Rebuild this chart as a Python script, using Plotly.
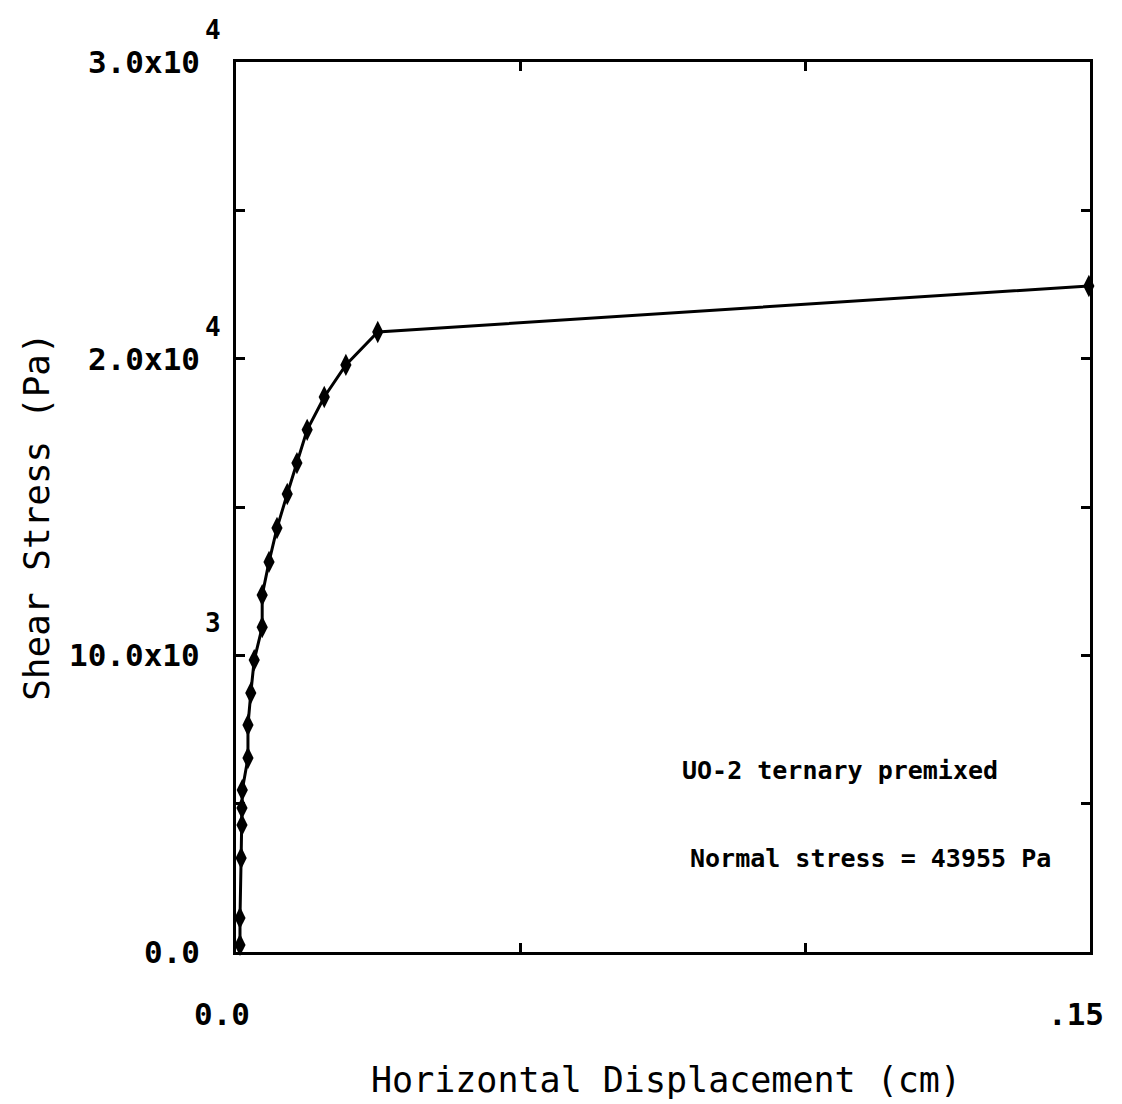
import plotly.graph_objects as go

# Data
displacement_cm = [0.0007, 0.0007, 0.0009, 0.00105, 0.00105, 0.0011, 0.0021, 0.0021, 0.0026,
                   0.0032, 0.0046, 0.0046, 0.0058, 0.0072, 0.0090, 0.0107, 0.0125, 0.0155,
                   0.0193, 0.0249, 0.1498]
shear_stress_pa = [240, 1150, 3170, 4280, 4850, 5460, 6540, 7650, 8730,
                   9840, 10950, 12030, 13150, 14290, 15440, 16480, 17600, 18710,
                   19790, 20900, 22450]

y_tickvals = [0, 5000, 10000, 15000, 20000, 25000, 30000]
y_label_vals = [0, 10000, 20000, 30000]
y_label_mant = ["0.0", "10.0x10", "2.0x10", "3.0x10"]
y_label_exp = ["", "3", "4", "4"]
x_tickvals = [0, 0.05, 0.10, 0.15]
x_label_vals = [0, 0.15]
x_label_text = ["0.0", ".15"]

note_lines = ["UO-2 ternary premixed", "Normal stress = 43955 Pa"]

FONT = "DejaVu Sans Mono"

fig = go.Figure()
fig.add_trace(go.Scatter(
    x=displacement_cm, y=shear_stress_pa, mode="lines+markers",
    line=dict(color="black", width=3),
    marker=dict(symbol="diamond-tall", size=16, color="black"),
    showlegend=False, cliponaxis=False,
))

axis_common = dict(showgrid=False, zeroline=False, showline=True, linecolor="black",
                   linewidth=3, mirror="ticks", ticks="inside", ticklen=9,
                   tickwidth=3, tickcolor="black", showticklabels=False)

fig.update_layout(
    width=1122, height=1104,
    margin=dict(l=236, r=32, t=62, b=152),
    paper_bgcolor="white", plot_bgcolor="white",
    xaxis=dict(range=[0, 0.15], tickvals=x_tickvals, **axis_common),
    yaxis=dict(range=[0, 30000], tickvals=y_tickvals, **axis_common),
)

anns = []
for v, m, e in zip(y_label_vals, y_label_mant, y_label_exp):
    anns.append(dict(x=0, xref="paper", y=v, yref="y", text=m, showarrow=False,
                     xanchor="right", yanchor="middle", xshift=-34, yshift=0,
                     font=dict(family=FONT, size=31, color="black", weight="bold")))
    if e:
        anns.append(dict(x=0, xref="paper", y=v, yref="y", text=e, showarrow=False,
                         xanchor="center", yanchor="middle", xshift=-23, yshift=32,
                         font=dict(family=FONT, size=26, color="black", weight="bold")))
for v, t in zip(x_label_vals, x_label_text):
    anns.append(dict(x=v, xref="x", y=0, yref="paper", text=t, showarrow=False,
                     xanchor="center", yanchor="middle", xshift=-14, yshift=-62,
                     font=dict(family=FONT, size=31, color="black", weight="bold")))

anns.append(dict(x=-0.233, xref="paper", y=0.489, yref="paper", text="Shear Stress (Pa)",
                 textangle=-90, showarrow=False, xanchor="center", yanchor="middle",
                 font=dict(family=FONT, size=36, color="black")))
anns.append(dict(x=0.5035, xref="paper", y=-0.1438, yref="paper",
                 text="Horizontal Displacement (cm)", showarrow=False,
                 xanchor="center", yanchor="middle",
                 font=dict(family=FONT, size=35, color="black")))

note_y = [0.204, 0.105]
note_x = [0.520, 0.529]
for t, nx, ny in zip(note_lines, note_x, note_y):
    anns.append(dict(x=nx, xref="paper", y=ny, yref="paper", text=t, showarrow=False,
                     xanchor="left", yanchor="middle",
                     font=dict(family=FONT, size=25, color="black", weight="bold")))

fig.update_layout(annotations=anns)
fig.write_html("out.html")
